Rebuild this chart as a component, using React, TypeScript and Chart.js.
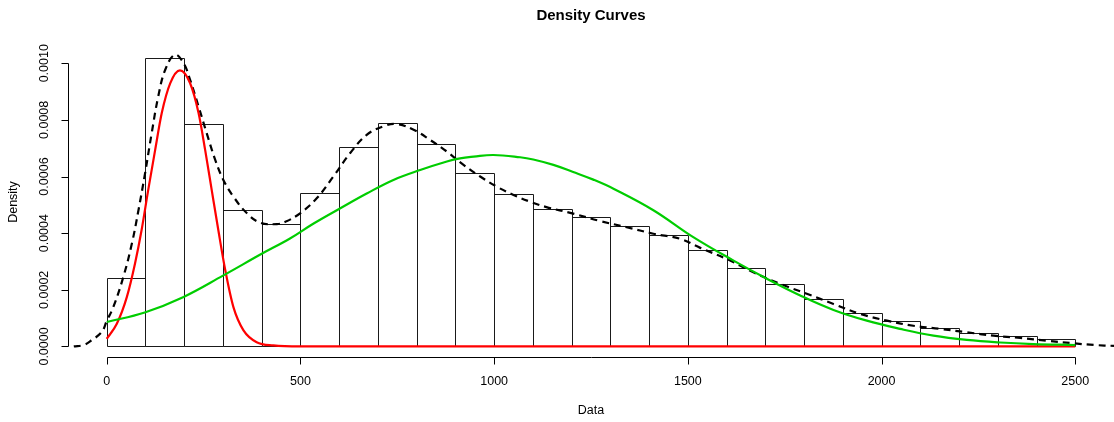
import React, { useEffect, useRef } from "react";
import { Chart, registerables } from "chart.js";

Chart.register(...registerables);

// ---- data ----
const binMids = [
  50, 150, 250, 350, 450, 550, 650, 750, 850, 950, 1050, 1150, 1250, 1350,
  1450, 1550, 1650, 1750, 1850, 1950, 2050, 2150, 2250, 2350, 2450,
];
const histDensity = [
  0.000242, 0.00102, 0.000787, 0.00048, 0.000431, 0.000541, 0.000703,
  0.000788, 0.000715, 0.000611, 0.000538, 0.000487, 0.000456, 0.000424,
  0.000392, 0.000341, 0.000278, 0.00022, 0.000166, 0.000119, 0.00009,
  0.000066, 0.000047, 0.0000355, 0.000026,
];

const kdeX = [
  -85, -60, -40, -13, 0, 17, 43, 65, 82, 99, 116, 133, 151, 176, 198, 215,
  237, 258, 280, 301, 327, 362, 396, 439, 461, 499, 542, 585, 628, 671, 714,
  749, 792, 835, 878, 921, 964, 1007, 1050, 1093, 1135, 1204, 1273, 1342,
  1411, 1480, 1532, 1600, 1669, 1738, 1807, 1876, 1945, 2014, 2082, 2151,
  2220, 2289, 2358, 2427, 2496, 2550, 2600, 2650,
];
const kdeY = [
  0.0, 0.000005, 0.000021, 0.000051, 0.00009, 0.000139, 0.000246, 0.000364,
  0.000482, 0.000612, 0.000753, 0.000883, 0.000977, 0.00103, 0.001001,
  0.000942, 0.000847, 0.000753, 0.000659, 0.000588, 0.000529, 0.00047,
  0.000437, 0.000432, 0.00044, 0.00047, 0.000523, 0.0006, 0.000682, 0.000747,
  0.000777, 0.000785, 0.000765, 0.000729, 0.000688, 0.000641, 0.0006,
  0.000564, 0.000535, 0.000511, 0.000492, 0.000469, 0.000443, 0.000421,
  0.000398, 0.00038, 0.000348, 0.000309, 0.000262, 0.000221, 0.000186,
  0.00015, 0.000115, 0.000091, 0.000073, 0.000062, 0.00005, 0.000038,
  0.00003, 0.00002, 0.000011, 0.000005, 0.000002, 0.000001,
];

const redX = [
  0, 26, 52, 73, 90, 107, 125, 142, 164, 189, 215, 237, 254, 271, 288, 306,
  327, 353, 387, 430, 500, 700, 1200, 1800, 2500,
];
const redY = [
  0.000027, 0.00008, 0.000175, 0.000293, 0.000411, 0.000552, 0.000694,
  0.000824, 0.00093, 0.000975, 0.00093, 0.000824, 0.000694, 0.000552,
  0.000411, 0.000269, 0.000139, 0.000057, 0.000015, 0.0000035, 0.0, 0.0,
  0.0, 0.0, 0.0,
];

const greenX = [
  0, 98, 197, 300, 400, 473, 534, 603, 671, 740, 809, 878, 912, 947, 998,
  1067, 1101, 1153, 1204, 1256, 1308, 1411, 1514, 1618, 1704, 1790, 1876,
  1962, 2048, 2134, 2220, 2306, 2392, 2500,
];
const greenY = [
  0.0000862, 0.00012, 0.000174, 0.00025, 0.000327, 0.000381, 0.000434,
  0.000488, 0.00054, 0.000588, 0.000623, 0.000653, 0.000664, 0.00067,
  0.000676, 0.000668, 0.00066, 0.000641, 0.000616, 0.000589, 0.000557,
  0.000481, 0.000386, 0.000303, 0.000239, 0.00018, 0.000129, 0.000091,
  0.000062, 0.000038, 0.000023, 0.000014, 0.0000085, 0.000005,
];

const xTicks = [0, 500, 1000, 1500, 2000, 2500];
const xTickLabels = ["0", "500", "1000", "1500", "2000", "2500"];
const yTicks = [0, 0.0002, 0.0004, 0.0006, 0.0008, 0.001];
const yTickLabels = ["0.0000", "0.0002", "0.0004", "0.0006", "0.0008", "0.0010"];

const titleText = "Density Curves";
const xTitle = "Data";
const yTitle = "Density";

const xLim = [0, 2500];
const yLim = [0, 0.00102];

const FONT = '"Liberation Sans", Arial, Helvetica, sans-serif';
const HIST_INDEX = 3;

// outlines of the histogram rectangles, one shared 1px line per edge (as R's rect)
const histOutlinePlugin = {
  id: "histOutline",
  afterDatasetDraw(chart: any, args: any) {
    if (args.index !== HIST_INDEX) return;
    const ctx = chart.ctx as CanvasRenderingContext2D;
    const meta = chart.getDatasetMeta(HIST_INDEX);
    ctx.save();
    ctx.strokeStyle = "#1a1a1a";
    ctx.lineWidth = 1;
    ctx.beginPath();
    meta.data.forEach((bar: any) => {
      const { x, y, base, width } = bar.getProps(["x", "y", "base", "width"], true);
      const l = Math.round(x - width / 2) + 0.5;
      const r = Math.round(x + width / 2) + 0.5;
      const t = Math.round(y) + 0.5;
      const b = Math.round(base) + 0.5;
      ctx.rect(l, t, r - l, b - t);
    });
    ctx.stroke();
    ctx.restore();
  },
};

const rAxesPlugin = {
  id: "rAxes",
  afterDraw(chart: any) {
    const ctx = chart.ctx as CanvasRenderingContext2D;
    const xs = chart.scales.x;
    const ys = chart.scales.y;
    const ca = chart.chartArea;
    ctx.save();
    ctx.strokeStyle = "#000";
    ctx.fillStyle = "#000";
    ctx.lineWidth = 1;

    // x axis
    const yAx = Math.round(ca.bottom) - 0.5;
    ctx.beginPath();
    const xa = Math.round(xs.getPixelForValue(xTicks[0])) + 0.5;
    const xb = Math.round(xs.getPixelForValue(xTicks[xTicks.length - 1])) + 0.5;
    ctx.moveTo(xa, yAx);
    ctx.lineTo(xb, yAx);
    xTicks.forEach((v) => {
      const px = Math.round(xs.getPixelForValue(v)) + 0.5;
      ctx.moveTo(px, yAx);
      ctx.lineTo(px, yAx + 7);
    });
    ctx.stroke();

    ctx.font = `12.5px ${FONT}`;
    ctx.textAlign = "center";
    ctx.textBaseline = "middle";
    xTicks.forEach((v, i) => {
      ctx.fillText(xTickLabels[i], xs.getPixelForValue(v), ca.bottom + 24);
    });

    // y axis
    const xAx = Math.round(ca.left) + 0.5;
    ctx.beginPath();
    const ya = Math.round(ys.getPixelForValue(yTicks[0])) + 0.5;
    const yb = Math.round(ys.getPixelForValue(yTicks[yTicks.length - 1])) + 0.5;
    ctx.moveTo(xAx, ya);
    ctx.lineTo(xAx, yb);
    yTicks.forEach((v) => {
      const py = Math.round(ys.getPixelForValue(v)) + 0.5;
      ctx.moveTo(xAx, py);
      ctx.lineTo(xAx - 7, py);
    });
    ctx.stroke();

    yTicks.forEach((v, i) => {
      ctx.save();
      ctx.translate(ca.left - 23, ys.getPixelForValue(v));
      ctx.rotate(-Math.PI / 2);
      ctx.fillText(yTickLabels[i], 0, 0);
      ctx.restore();
    });

    // axis titles
    ctx.fillText(xTitle, (ca.left + ca.right) / 2, ca.bottom + 53);
    ctx.save();
    ctx.translate(14, (ca.top + ca.bottom) / 2);
    ctx.rotate(-Math.PI / 2);
    ctx.fillText(yTitle, 0, 0);
    ctx.restore();

    // main title
    ctx.font = `bold 15px ${FONT}`;
    ctx.fillText(titleText, (ca.left + ca.right) / 2, 16);
    ctx.restore();
  },
};

export default function App() {
  const canvasRef = useRef<HTMLCanvasElement | null>(null);

  useEffect(() => {
    document.body.style.margin = "0";
    const canvas = canvasRef.current;
    if (!canvas) return;
    const xPad = (xLim[1] - xLim[0]) * 0.04;
    const yPad = (yLim[1] - yLim[0]) * 0.04;

    const chart = new Chart(canvas, {
      type: "bar",
      data: {
        datasets: [
          {
            type: "line",
            label: "kde",
            data: kdeX.map((x, i) => ({ x, y: kdeY[i] })),
            borderColor: "#000000",
            borderWidth: 2.2,
            borderDash: [7, 5],
            pointRadius: 0,
            tension: 0.4,
            fill: false,
            order: 3,
          } as any,
          {
            type: "line",
            label: "red",
            data: redX.map((x, i) => ({ x, y: redY[i] })),
            borderColor: "#FF0000",
            borderWidth: 2.2,
            pointRadius: 0,
            cubicInterpolationMode: "monotone",
            fill: false,
            order: 2,
          } as any,
          {
            type: "line",
            label: "green",
            data: greenX.map((x, i) => ({ x, y: greenY[i] })),
            borderColor: "#00CD00",
            borderWidth: 2.2,
            pointRadius: 0,
            tension: 0.4,
            fill: false,
            order: 1,
          } as any,
          {
            type: "bar",
            label: "hist",
            data: binMids.map((x, i) => ({ x, y: histDensity[i] })),
            backgroundColor: "rgba(255,255,255,0)",
            borderWidth: 0,
            borderSkipped: false,
            inflateAmount: 0,
            barPercentage: 1,
            categoryPercentage: 1,
            order: 10,
          } as any,
        ],
      },
      options: {
        animation: false,
        responsive: false,
        devicePixelRatio: 1,
        events: [],
        layout: { padding: { left: 68, right: 0, top: 46, bottom: 64 } },
        plugins: {
          legend: { display: false },
          tooltip: { enabled: false },
          title: { display: false },
        },
        scales: {
          x: {
            type: "linear",
            display: false,
            offset: false,
            min: xLim[0] - xPad,
            max: xLim[1] + xPad,
            ticks: { stepSize: 100 },
            grid: { display: false },
          },
          y: {
            type: "linear",
            display: false,
            min: yLim[0] - yPad,
            max: yLim[1] + yPad,
            grid: { display: false },
          },
        },
      } as any,
      plugins: [histOutlinePlugin, rAxesPlugin],
    });

    return () => chart.destroy();
  }, []);

  return (
    <canvas
      ref={canvasRef}
      width={1114}
      height={422}
      style={{ display: "block", width: 1114, height: 422 }}
    />
  );
}
